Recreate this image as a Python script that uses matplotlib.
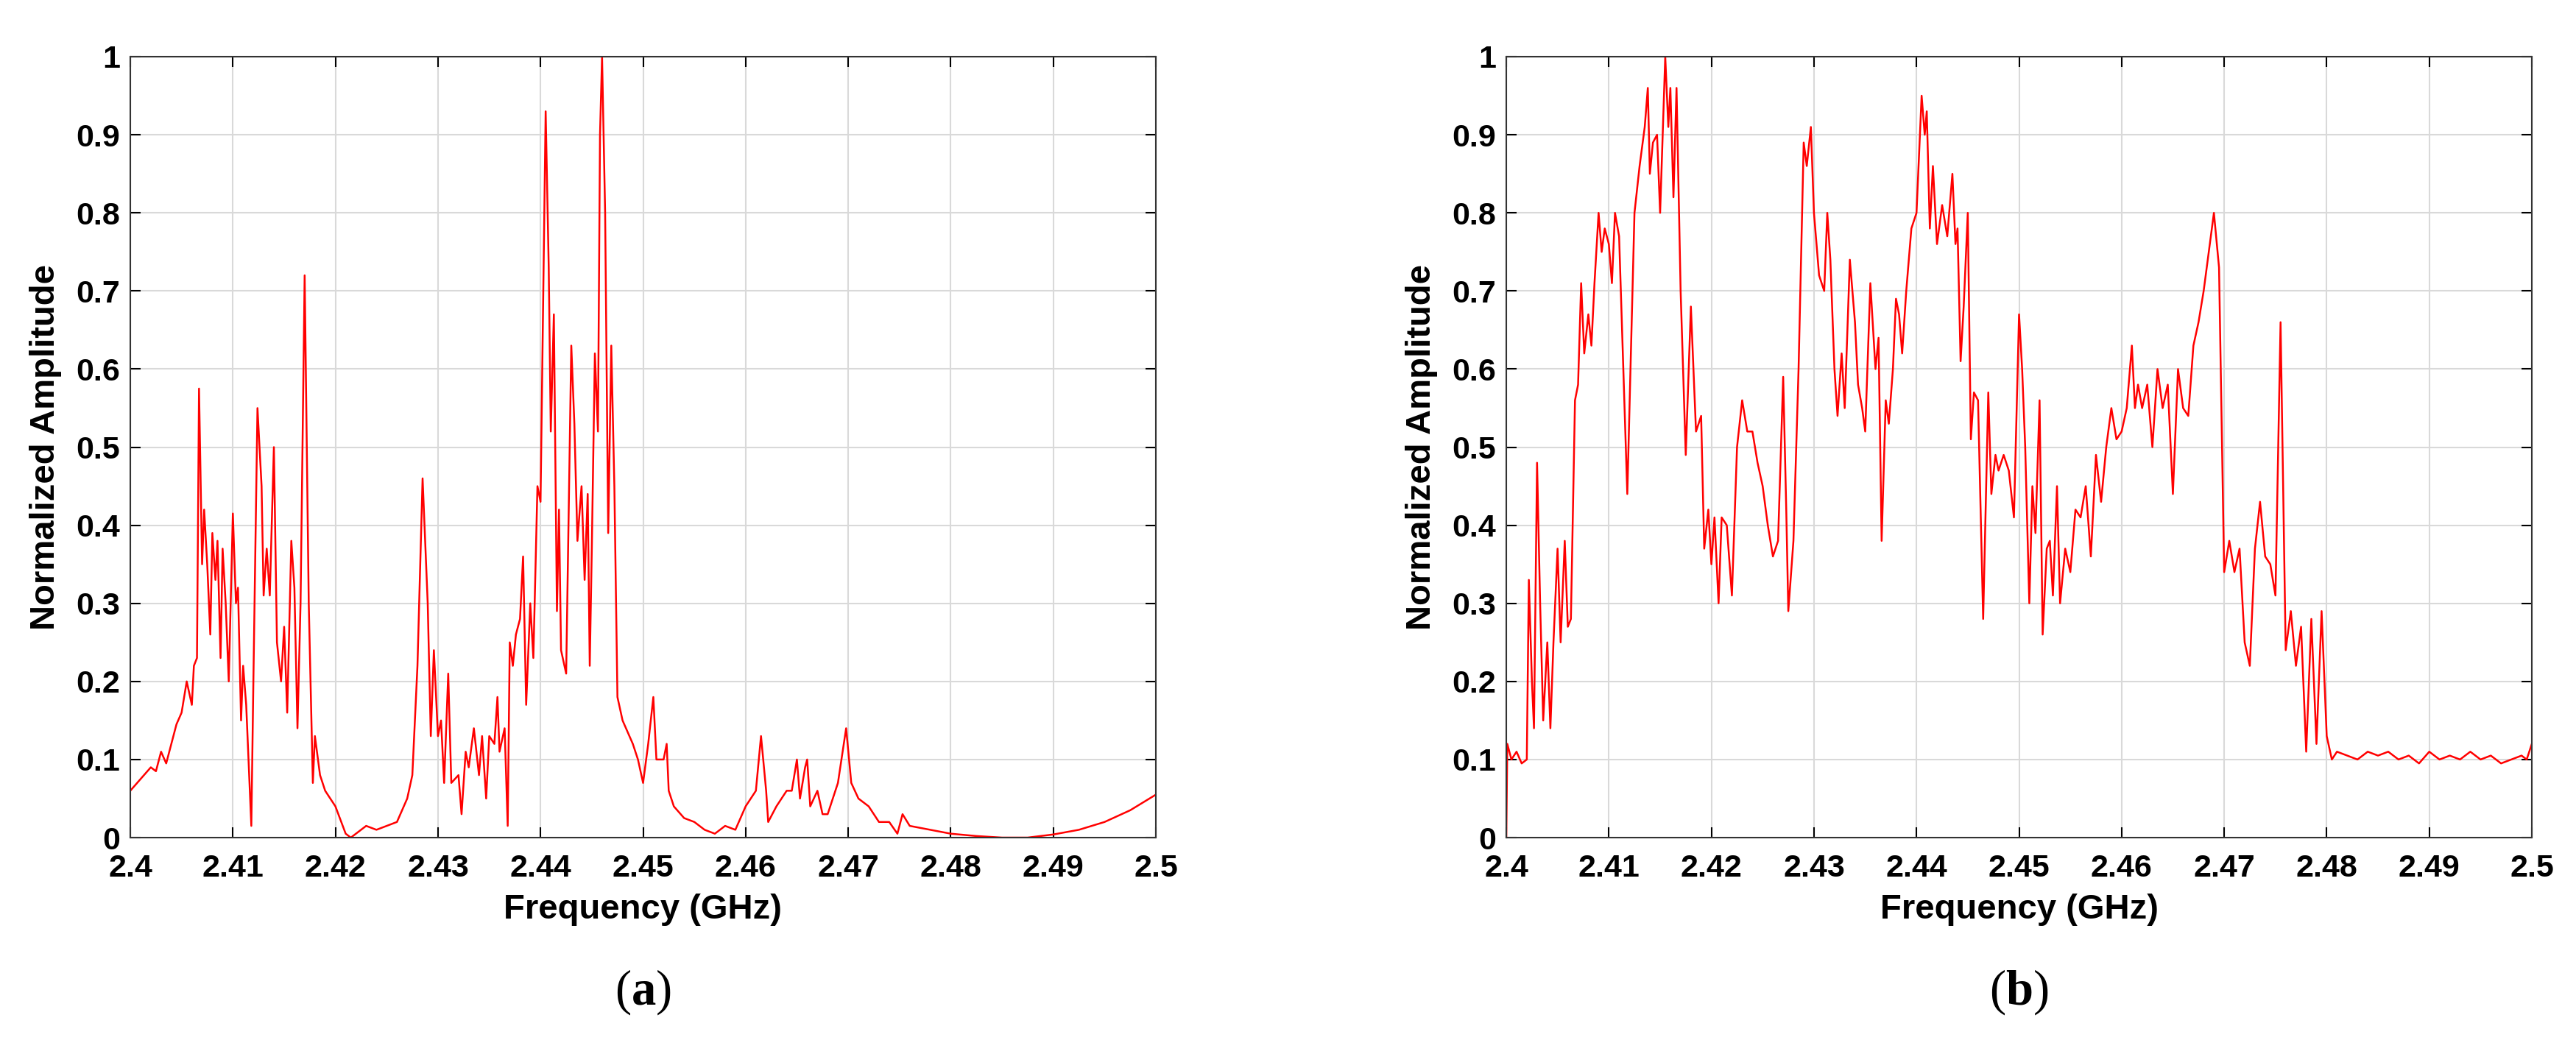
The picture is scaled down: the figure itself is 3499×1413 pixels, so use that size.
import matplotlib
matplotlib.use("Agg")
import matplotlib.pyplot as plt
import numpy as np

plt.rcParams['mathtext.fontset'] = 'custom'
plt.rcParams['mathtext.rm'] = 'Liberation Serif'
plt.rcParams['mathtext.bf'] = 'Liberation Serif:bold'

# (frequency GHz, normalized amplitude) pairs
points_a = [(2.400,0.06),(2.401,0.075),(2.402,0.09),(2.4025,0.085),(2.403,0.11),(2.4035,0.095),(2.404,0.12),(2.4045,0.145),(2.405,0.16),(2.4055,0.2),(2.406,0.17),(2.4062,0.22),(2.4065,0.23),(2.4067,0.575),(2.4070,0.35),(2.4072,0.42),(2.4075,0.35),(2.4078,0.26),(2.408,0.39),(2.4083,0.33),(2.4085,0.38),(2.4088,0.23),(2.409,0.37),(2.4093,0.30),(2.4096,0.20),(2.41,0.415),(2.4103,0.30),(2.4105,0.32),(2.4108,0.15),(2.411,0.22),(2.4113,0.17),(2.4118,0.015),(2.412,0.2),(2.4124,0.55),(2.4128,0.45),(2.413,0.31),(2.4133,0.37),(2.4136,0.31),(2.414,0.5),(2.4143,0.25),(2.4147,0.2),(2.415,0.27),(2.4153,0.16),(2.4157,0.38),(2.416,0.32),(2.4163,0.14),(2.4166,0.3),(2.417,0.72),(2.4174,0.3),(2.4178,0.07),(2.418,0.13),(2.4185,0.08),(2.419,0.06),(2.42,0.04),(2.421,0.005),(2.4215,0.0),(2.422,0.005),(2.423,0.015),(2.424,0.01),(2.425,0.015),(2.426,0.02),(2.427,0.05),(2.4275,0.08),(2.428,0.22),(2.4285,0.46),(2.429,0.3),(2.4293,0.13),(2.4296,0.24),(2.43,0.13),(2.4303,0.15),(2.4306,0.07),(2.431,0.21),(2.4313,0.07),(2.432,0.08),(2.4323,0.03),(2.4327,0.11),(2.433,0.09),(2.4335,0.14),(2.434,0.08),(2.4343,0.13),(2.4347,0.05),(2.435,0.13),(2.4355,0.12),(2.4358,0.18),(2.436,0.11),(2.4365,0.14),(2.4368,0.015),(2.437,0.25),(2.4373,0.22),(2.4376,0.26),(2.438,0.28),(2.4383,0.36),(2.4386,0.17),(2.439,0.3),(2.4393,0.23),(2.4397,0.45),(2.44,0.43),(2.4405,0.93),(2.4408,0.73),(2.441,0.52),(2.4413,0.67),(2.4416,0.29),(2.4418,0.42),(2.442,0.24),(2.4425,0.21),(2.443,0.63),(2.4433,0.53),(2.4436,0.38),(2.444,0.45),(2.4443,0.33),(2.4446,0.44),(2.4448,0.22),(2.445,0.37),(2.4453,0.62),(2.4456,0.52),(2.4458,0.9),(2.446,1.0),(2.4463,0.8),(2.4466,0.39),(2.4469,0.63),(2.4472,0.45),(2.4475,0.18),(2.448,0.15),(2.449,0.12),(2.4495,0.1),(2.45,0.07),(2.4505,0.12),(2.451,0.18),(2.4513,0.1),(2.452,0.1),(2.4523,0.12),(2.4525,0.06),(2.453,0.04),(2.454,0.025),(2.455,0.02),(2.456,0.01),(2.457,0.005),(2.458,0.015),(2.459,0.01),(2.46,0.04),(2.4605,0.05),(2.461,0.06),(2.4615,0.13),(2.462,0.06),(2.4622,0.02),(2.463,0.04),(2.4635,0.05),(2.464,0.06),(2.4645,0.06),(2.465,0.1),(2.4653,0.05),(2.4658,0.09),(2.466,0.1),(2.4663,0.04),(2.467,0.06),(2.4675,0.03),(2.468,0.03),(2.469,0.07),(2.4698,0.14),(2.4703,0.07),(2.471,0.05),(2.472,0.04),(2.473,0.02),(2.474,0.02),(2.4748,0.005),(2.4753,0.03),(2.476,0.015),(2.478,0.01),(2.48,0.005),(2.4825,0.002),(2.485,0.0),(2.4875,0.0),(2.49,0.004),(2.4925,0.01),(2.495,0.02),(2.4975,0.035),(2.5,0.055)]

points_b = [(2.4,0.0),(2.4001,0.12),(2.4005,0.1),(2.401,0.11),(2.4015,0.095),(2.402,0.1),(2.4022,0.33),(2.4025,0.2),(2.4027,0.14),(2.403,0.48),(2.4033,0.3),(2.4036,0.15),(2.404,0.25),(2.4043,0.14),(2.4046,0.25),(2.405,0.37),(2.4053,0.25),(2.4057,0.38),(2.406,0.27),(2.4063,0.28),(2.4067,0.56),(2.407,0.58),(2.4073,0.71),(2.4076,0.62),(2.408,0.67),(2.4083,0.63),(2.4086,0.71),(2.409,0.8),(2.4093,0.75),(2.4096,0.78),(2.41,0.76),(2.4103,0.71),(2.4106,0.8),(2.411,0.77),(2.4118,0.44),(2.4125,0.8),(2.413,0.86),(2.4135,0.91),(2.4138,0.96),(2.414,0.85),(2.4143,0.89),(2.4147,0.9),(2.415,0.8),(2.4155,1.0),(2.4158,0.91),(2.416,0.96),(2.4163,0.82),(2.4166,0.96),(2.417,0.7),(2.4175,0.49),(2.418,0.68),(2.4185,0.52),(2.419,0.54),(2.4193,0.37),(2.4197,0.42),(2.42,0.35),(2.4203,0.41),(2.4207,0.3),(2.421,0.41),(2.4215,0.4),(2.422,0.31),(2.4225,0.5),(2.423,0.56),(2.4235,0.52),(2.424,0.52),(2.4245,0.48),(2.425,0.45),(2.4255,0.4),(2.426,0.36),(2.4265,0.38),(2.427,0.59),(2.4273,0.42),(2.4275,0.29),(2.428,0.38),(2.4285,0.6),(2.429,0.89),(2.4293,0.86),(2.4297,0.91),(2.43,0.8),(2.4305,0.72),(2.431,0.7),(2.4313,0.8),(2.4316,0.74),(2.432,0.6),(2.4323,0.54),(2.4327,0.62),(2.433,0.55),(2.4335,0.74),(2.434,0.66),(2.4343,0.58),(2.4347,0.55),(2.435,0.52),(2.4355,0.71),(2.436,0.6),(2.4363,0.64),(2.4366,0.38),(2.437,0.56),(2.4373,0.53),(2.4377,0.6),(2.438,0.69),(2.4383,0.67),(2.4386,0.62),(2.439,0.7),(2.4395,0.78),(2.44,0.8),(2.4405,0.95),(2.4408,0.9),(2.441,0.93),(2.4413,0.78),(2.4416,0.86),(2.442,0.76),(2.4425,0.81),(2.443,0.77),(2.4435,0.85),(2.4438,0.76),(2.444,0.78),(2.4443,0.61),(2.4446,0.68),(2.445,0.8),(2.4453,0.51),(2.4456,0.57),(2.446,0.56),(2.4465,0.28),(2.447,0.57),(2.4473,0.44),(2.4477,0.49),(2.448,0.47),(2.4485,0.49),(2.449,0.47),(2.4495,0.41),(2.45,0.67),(2.4503,0.6),(2.4506,0.5),(2.451,0.3),(2.4513,0.45),(2.4516,0.39),(2.452,0.56),(2.4523,0.26),(2.4527,0.37),(2.453,0.38),(2.4533,0.31),(2.4537,0.45),(2.454,0.3),(2.4545,0.37),(2.455,0.34),(2.4555,0.42),(2.456,0.41),(2.4565,0.45),(2.457,0.36),(2.4575,0.49),(2.458,0.43),(2.4585,0.5),(2.459,0.55),(2.4595,0.51),(2.46,0.52),(2.4605,0.55),(2.461,0.63),(2.4613,0.55),(2.4616,0.58),(2.462,0.55),(2.4625,0.58),(2.463,0.5),(2.4635,0.6),(2.464,0.55),(2.4645,0.58),(2.465,0.44),(2.4655,0.6),(2.466,0.55),(2.4665,0.54),(2.467,0.63),(2.4675,0.66),(2.468,0.7),(2.4685,0.75),(2.469,0.8),(2.4695,0.73),(2.47,0.34),(2.4705,0.38),(2.471,0.34),(2.4715,0.37),(2.472,0.25),(2.4725,0.22),(2.473,0.37),(2.4735,0.43),(2.474,0.36),(2.4745,0.35),(2.475,0.31),(2.4755,0.66),(2.476,0.24),(2.4765,0.29),(2.477,0.22),(2.4775,0.27),(2.478,0.11),(2.4785,0.28),(2.479,0.12),(2.4795,0.29),(2.48,0.13),(2.4805,0.1),(2.481,0.11),(2.482,0.105),(2.483,0.1),(2.484,0.11),(2.485,0.105),(2.486,0.11),(2.487,0.1),(2.488,0.105),(2.489,0.095),(2.49,0.11),(2.491,0.1),(2.492,0.105),(2.493,0.1),(2.494,0.11),(2.495,0.1),(2.496,0.105),(2.497,0.095),(2.498,0.1),(2.499,0.105),(2.4995,0.1),(2.5,0.12)]

freq_a, amp_a = zip(*points_a)
freq_b, amp_b = zip(*points_b)

W, H = 3499, 1413
fig = plt.figure(figsize=(W/100, H/100), dpi=100)
fs = 31
panels = [(freq_a, amp_a, 177, "a"), (freq_b, amp_b, 2046, "b")]
for fx, ay, left, lab in panels:
    ax = fig.add_axes([left/W, 1-1138/H, 1393/W, 1061/H])
    ax.plot(fx, ay, color="#ff0000", lw=1.8)
    ax.set_xlim(2.4, 2.5)
    ax.set_ylim(0, 1)
    ax.set_xticks(np.round(np.arange(2.4, 2.5001, 0.01), 2))
    ax.set_xticklabels(["2.4"] + [f"{v:.2f}" for v in np.arange(2.41, 2.495, 0.01)] + ["2.5"])
    ax.set_yticks(np.round(np.arange(0, 1.001, 0.1), 1))
    ax.set_yticklabels(["0"] + [f"{v:.1f}" for v in np.arange(0.1, 0.95, 0.1)] + ["1"])
    ax.grid(True, color="#d9d9d9", lw=1.5)
    ax.tick_params(direction="in", top=True, right=True, length=10, width=1.5, labelsize=fs)
    ax.tick_params(axis="x", pad=16)
    ax.tick_params(axis="y", pad=10)
    for t in ax.get_xticklabels() + ax.get_yticklabels():
        t.set_fontweight("bold"); t.set_family("Liberation Sans")
    for s in ax.spines.values():
        s.set_linewidth(1.5); s.set_color("#333333")
    ax.set_xlabel("Frequency (GHz)", fontsize=fs+3, fontweight="bold", family="Liberation Sans", labelpad=10)
    ax.set_ylabel("Normalized Amplitude", fontsize=fs+3, fontweight="bold", family="Liberation Sans", labelpad=14)
    cx = (left + 1393/2)/W
    fig.text(cx, 1-1348/H, r"($\mathbf{" + lab + r"}$)", fontsize=48,
             family="Liberation Serif", ha="center", va="center")

fig.savefig("out.png", dpi=100, facecolor="white")
